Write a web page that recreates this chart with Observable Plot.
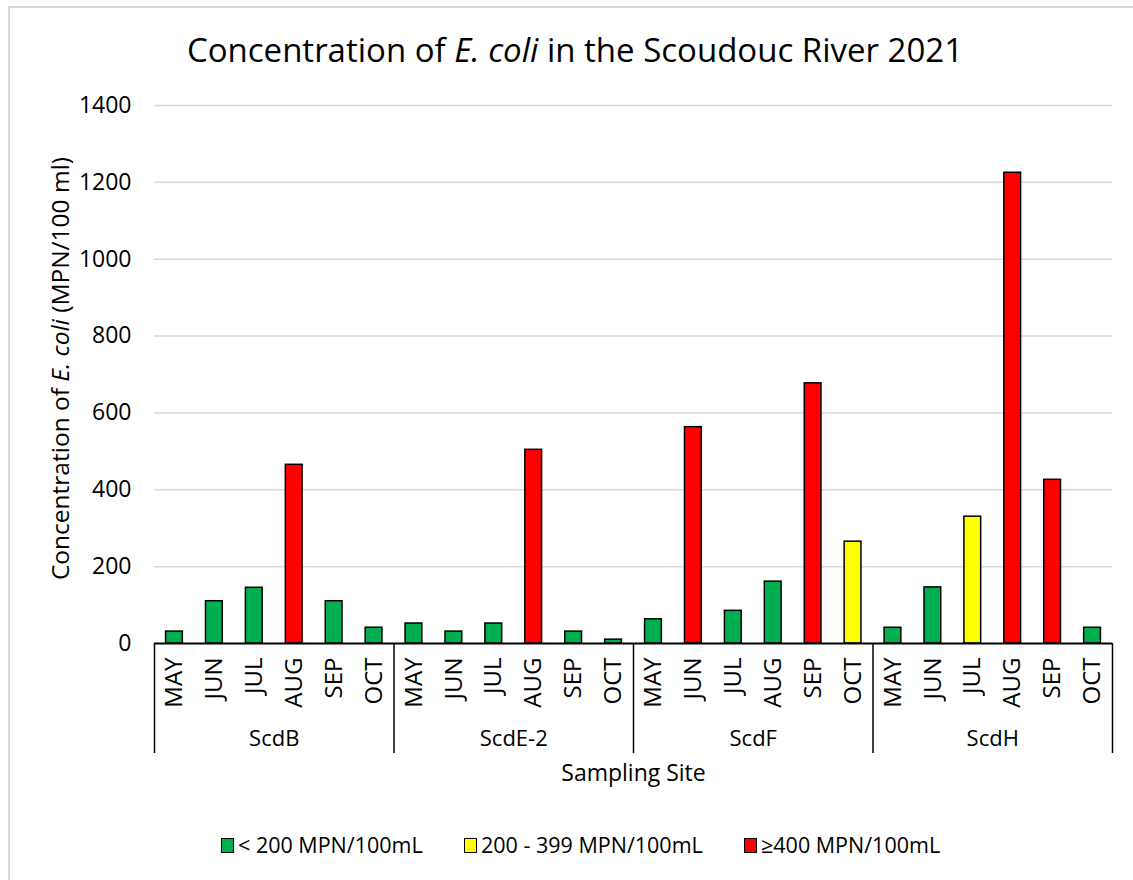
<!DOCTYPE html>
<html>
<head>
<meta charset="utf-8">
<script src="https://cdn.jsdelivr.net/npm/d3@7"></script>
<script src="https://cdn.jsdelivr.net/npm/@observablehq/plot@0.6"></script>
<style>
  html, body { margin: 0; padding: 0; background: #fff; }
  body { width: 1133px; height: 880px; position: relative; overflow: hidden; font-family: "Open Sans", "Noto Sans", sans-serif; color: #000; }
  #frame { position: absolute; left: 8px; top: 6px; width: 1140px; height: 900px; border: 2px solid #d9d9d9; box-sizing: border-box; }
  #title { position: absolute; left: 0; width: 1150px; top: 28px; text-align: center; font-size: 33px; line-height: 44px; }
  #chart { position: absolute; left: 0; top: 76px; }
  #legend { position: absolute; left: 0; top: 830px; width: 1133px; height: 30px; font-size: 21.5px; line-height: 30px; }
  .item { position: absolute; top: 0; display: flex; align-items: center; gap: 4px; white-space: nowrap; }
  .sw { width: 13px; height: 15px; border: 1.5px solid #000; box-sizing: border-box; }
</style>
</head>
<body>
<div id="frame"></div>
<div id="title">Concentration of <i>E. coli</i> in the Scoudouc River 2021</div>
<div id="chart"></div>
<div id="legend"></div>
<script>
// ---- data ----
const sites = ["ScdB", "ScdE-2", "ScdF", "ScdH"];
const months = ["MAY", "JUN", "JUL", "AUG", "SEP", "OCT"];
const scdB  = [31, 110, 145, 465, 110, 41];
const scdE2 = [52, 31, 52, 504, 31, 10];
const scdF  = [63, 563, 85, 161, 677, 265];
const scdH  = [41, 146, 330, 1225, 426, 41];
const yTicks = [0, 200, 400, 600, 800, 1000, 1200, 1400];
const thresholds = [200, 400];
const legendLabels = ["< 200 MPN/100mL", "200 - 399 MPN/100mL", "\u2265400 MPN/100mL"];
const legendColors = ["#00B050", "#FFFF00", "#FF0000"];
const xTitle = "Sampling Site";
const yTitle = "Concentration of E. coli (MPN/100 ml)";

const seriesBySite = [scdB, scdE2, scdF, scdH];
const rows = sites.flatMap((s, si) => months.map((m, mi) => ({
  site: s, month: m, key: s + "|" + m, value: seriesBySite[si][mi]
})));
const keys = rows.map(d => d.key);

// ---- layout ----
const W = 1133, H = 714, ML = 154, MR = 21, MT = 29, MB = 147;
const step = (W - ML - MR) / keys.length;
const FS = 23;
const legendLeft = [221, 464, 744];

const chart = Plot.plot({
  width: W, height: H,
  marginLeft: ML, marginRight: MR, marginTop: MT, marginBottom: MB,
  style: { fontFamily: "'Open Sans', 'Noto Sans', sans-serif", fontSize: FS + "px", color: "#000", background: "transparent", overflow: "visible" },
  x: { type: "band", domain: keys, paddingInner: 0.58, paddingOuter: 0.29, round: false, axis: null },
  y: { domain: [0, 1400], ticks: yTicks, tickSize: 0, tickPadding: 23, label: null, tickFormat: d => String(d) },
  color: { type: "threshold", domain: thresholds, range: legendColors },
  marks: [
    Plot.ruleY(yTicks.filter(t => t > 0), { stroke: "#d9d9d9", strokeWidth: 1.5 }),
    Plot.barY(rows, { x: "key", y: "value", fill: "value", stroke: "#000", strokeWidth: 1.5 }),
    Plot.ruleY([0], { stroke: "#000", strokeWidth: 2 }),
    Plot.ruleX(sites, { x: s => s + "|MAY", dx: -step / 2, y1: 0, y2: 0, insetBottom: -110, stroke: "#000", strokeWidth: 1.5 }),
    Plot.ruleX([sites[sites.length - 1]], { x: s => s + "|OCT", dx: step / 2, y1: 0, y2: 0, insetBottom: -110, stroke: "#000", strokeWidth: 1.5 }),
    Plot.text(rows, { x: "key", text: "month", frameAnchor: "bottom", rotate: -90, textAnchor: "end", lineAnchor: "middle", dy: 14, fontSize: 24 }),
    Plot.text(sites, { x: s => s + "|AUG", text: d => d, frameAnchor: "bottom", textAnchor: "middle", lineAnchor: "middle", dx: -step / 2, dy: 95, fontSize: 22 }),
    Plot.text([xTitle], { text: d => d, frameAnchor: "bottom", textAnchor: "middle", lineAnchor: "middle", dy: 130, fontSize: 23 }),
    Plot.text([yTitle], { text: d => d, frameAnchor: "left", textAnchor: "middle", lineAnchor: "middle", dx: -93, dy: -6, rotate: -90, fontSize: 24.5 })
  ]
});
document.getElementById("chart").appendChild(chart);

// italicise "E. coli" in the y title
d3.select(chart).selectAll("text").filter(function () { return this.textContent === yTitle; })
  .each(function () {
    const t = d3.select(this);
    const parts = yTitle.split("E. coli");
    t.text(null);
    t.append("tspan").text(parts[0]);
    t.append("tspan").attr("font-style", "italic").text("E. coli");
    t.append("tspan").text(parts[1]);
  });

// legend
const lg = d3.select("#legend");
legendLabels.forEach((lab, i) => {
  const it = lg.append("div").attr("class", "item").style("left", legendLeft[i] + "px");
  it.append("div").attr("class", "sw").style("background", legendColors[i]);
  it.append("span").text(lab);
});
</script>
</body>
</html>
